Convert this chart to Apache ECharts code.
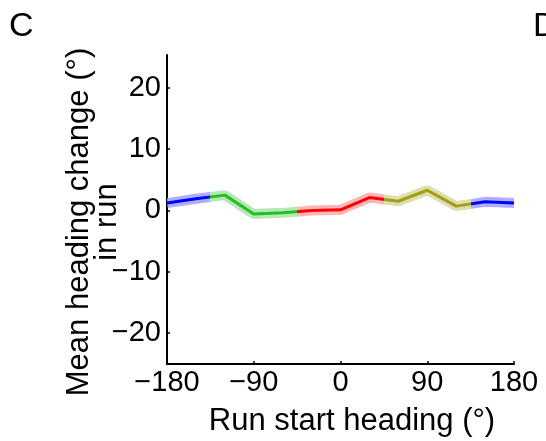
<!DOCTYPE html>
<html><head><meta charset="utf-8">
<script src="https://cdn.jsdelivr.net/npm/echarts@6/dist/echarts.min.js"></script>
<style>html,body{margin:0;padding:0;background:#fff}#c{width:546px;height:441px}</style>
</head><body><div id="c"></div>
<script>
const headings = [-180,-150,-120,-90,-60,-30,0,30,60,90,120,150,180];
const meanChange = [1.2,1.9,2.5,-0.6,-0.4,0.0,0.1,2.1,1.5,3.3,0.7,1.4,1.2];
const xTicks = [-180,-90,0,90,180];
const yTicks = [-20,-10,0,10,20];
const quadrantEdges = [-180,-135,-45,45,135,180];
const lineColors = ['#0000ff','#22c022','#ff0000','#a0a018','#0000ff'];
const bandColors = ['#a0a0ff','#a8e4a8','#ffa8a8','#d8d8a0','#a0a0ff'];

const FONT = 'Liberation Sans, Arial, Helvetica, sans-serif';
const pts = headings.map((h,i)=>[h, meanChange[i]]);
function pieces(cols){
  return cols.map((c,i)=>({gte: quadrantEdges[i], lt: quadrantEdges[i+1] + (i===cols.length-1?0.001:0), color: c}));
}
const fmt = v=>v<0?'\u2212'+Math.abs(v):String(v);
const chart = echarts.init(document.getElementById('c'));
chart.setOption({
  animation:false,
  backgroundColor:'#fff',
  grid:{left:167,right:32,top:55,bottom:77},
  xAxis:{type:'value',min:-180,max:180,interval:90,
    axisLine:{onZero:false,lineStyle:{color:'#000',width:2}},
    axisTick:{inside:true,length:3,lineStyle:{color:'#000',width:1.5}},
    axisLabel:{color:'#000',fontSize:29,fontFamily:FONT,margin:4,formatter:fmt},
    splitLine:{show:false}},
  yAxis:{type:'value',min:-25.1,max:25.4,
    axisLine:{show:true,onZero:false,lineStyle:{color:'#000',width:2}},
    axisTick:{show:true,inside:true,length:3,customValues:yTicks,lineStyle:{color:'#000',width:1.5}},
    axisLabel:{color:'#000',fontSize:29,fontFamily:FONT,margin:6,customValues:yTicks,formatter:fmt},
    splitLine:{show:false}},
  visualMap:[
    {type:'piecewise',show:false,dimension:0,seriesIndex:0,pieces:pieces(bandColors)},
    {type:'piecewise',show:false,dimension:0,seriesIndex:1,pieces:pieces(lineColors)}
  ],
  series:[
    {type:'line',data:pts,symbol:'none',lineStyle:{width:10,opacity:0.85},z:1},
    {type:'line',data:pts,symbol:'none',lineStyle:{width:3},z:2}
  ],
  graphic:[
    {type:'text',left:9,top:10,style:{text:'C',font:'34px '+FONT,fill:'#000'}},
    {type:'text',left:533,top:10,style:{text:'D',font:'34px '+FONT,fill:'#000'}},
    {type:'text',x:93,y:222,rotation:Math.PI/2,
      style:{text:'Mean heading change (\u00b0)\nin run',font:'31px '+FONT,lineHeight:28,
        fill:'#000',align:'center',verticalAlign:'middle'}},
    {type:'text',x:352,y:421,style:{text:'Run start heading (\u00b0)',font:'31px '+FONT,
      fill:'#000',align:'center',verticalAlign:'middle'}}
  ]
});
</script></body></html>
